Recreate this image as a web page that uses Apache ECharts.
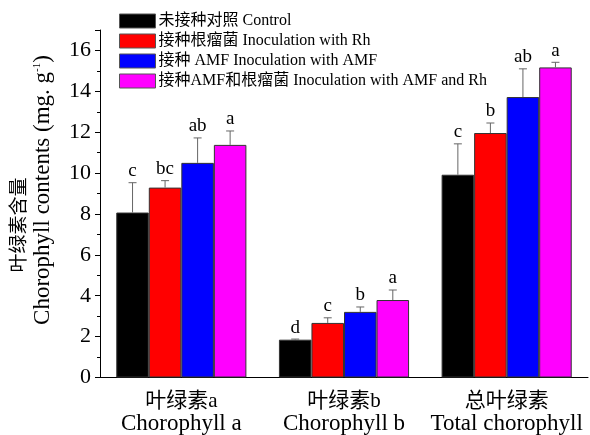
<!DOCTYPE html>
<html>
<head>
<meta charset="utf-8">
<script src="https://cdn.jsdelivr.net/npm/echarts@6/dist/echarts.min.js"></script>
<style>html,body{margin:0;padding:0;background:#fff}#c{width:590px;height:435px}</style>
</head>
<body>
<div id="c"></div>
<script>
var catCn = ['叶绿素a', '叶绿素b', '总叶绿素'];
var catEn = ['Chorophyll a', 'Chorophyll b', 'Total chorophyll'];
var seriesNames = ['未接种对照 Control', '接种根瘤菌 Inoculation with Rh', '接种 AMF Inoculation with AMF', '接种AMF和根瘤菌 Inoculation with AMF and Rh'];
var colors = ['#000000', '#ff0000', '#0000ff', '#ff00ff'];
var controlVals = [8.07, 1.85, 9.92];
var rhVals = [9.29, 2.67, 11.96];
var amfVals = [10.5, 3.21, 13.72];
var bothVals = [11.38, 3.79, 15.17];
var controlErr = [1.46, 0.03, 1.51];
var rhErr = [0.34, 0.25, 0.49];
var amfErr = [1.22, 0.24, 1.38];
var bothErr = [0.68, 0.49, 0.25];
var controlSig = ['c', 'd', 'c'];
var rhSig = ['bc', 'c', 'b'];
var amfSig = ['ab', 'b', 'ab'];
var bothSig = ['a', 'a', 'a'];
var yTicks = [0, 2, 4, 6, 8, 10, 12, 14, 16];

var vals = [controlVals, rhVals, amfVals, bothVals];
var errs = [controlErr, rhErr, amfErr, bothErr];
var sigs = [controlSig, rhSig, amfSig, bothSig];
var serif = '"Liberation Serif", "Times New Roman", "Noto Sans CJK SC", serif';

var chart = echarts.init(document.getElementById('c'), null, {renderer: 'canvas'});
var series = [];
vals.forEach(function (v, i) {
  series.push({
    type: 'bar', name: seriesNames[i], data: v,
    barGap: '0%', barCategoryGap: '20%',
    itemStyle: {color: colors[i], borderColor: '#333', borderWidth: 1},
    z: 2
  });
});
vals.forEach(function (v, i) {
  var data = v.map(function (val, k) { return [k, val, errs[i][k], sigs[i][k]]; });
  series.push({
    type: 'custom', name: 'err' + i, data: data, z: 5,
    renderItem: (function (si) {
      return function (params, api) {
        var idx = api.value(0), val = api.value(1), e = api.value(2);
        var bw = api.size([1, 0])[0] * 0.8 / 4;
        var base = api.coord([idx, val]);
        var top = api.coord([idx, val + e]);
        var x = base[0] + (si - 1.5) * bw;
        var cap = 4;
        return {
          type: 'group',
          children: [
            {type: 'line', shape: {x1: x, y1: base[1], x2: x, y2: top[1]}, style: {stroke: '#666', lineWidth: 1}},
            {type: 'line', shape: {x1: x - cap, y1: top[1], x2: x + cap, y2: top[1]}, style: {stroke: '#666', lineWidth: 1}},
            {type: 'text', x: x, y: top[1] - 2, style: {text: sigs[si][idx], font: '19px ' + serif, fill: '#000', align: 'center', verticalAlign: 'bottom'}}
          ]
        };
      };
    })(i)
  });
});

chart.setOption({
  animation: false,
  backgroundColor: '#fff',
  grid: {left: 100, right: 2, top: 30, bottom: 56},
  legend: {
    data: seriesNames, orient: 'vertical', left: 114, top: 8,
    icon: 'rect',
    itemWidth: 36, itemHeight: 14, itemGap: 4,
    textStyle: {fontFamily: serif, fontSize: 16, color: '#000', lineHeight: 14, padding: [0, 0, 0, -2]},
    itemStyle: {borderColor: '#555', borderWidth: 1}
  },
  xAxis: [{
    type: 'category', data: catCn,
    axisLine: {lineStyle: {color: '#000', width: 1}},
    axisTick: {alignWithLabel: true, length: 7, lineStyle: {color: '#000'}},
    axisLabel: {
      margin: 13, interval: 0,
      formatter: function (v, i) { return '{cn|' + catCn[i] + '}\n{en|' + catEn[i] + '}'; },
      rich: {
        cn: {fontFamily: serif, fontSize: 21, color: '#000', lineHeight: 22},
        en: {fontFamily: serif, fontSize: 23, color: '#000', lineHeight: 22}
      }
    }
  }, {
    type: 'category', data: catCn, position: 'bottom',
    axisLine: {show: false},
    axisTick: {length: 4, lineStyle: {color: '#000'}},
    axisLabel: {show: false}
  }],
  yAxis: {
    type: 'value', min: 0, max: 17, interval: 2,
    axisLine: {show: true, lineStyle: {color: '#000', width: 1}},
    axisTick: {show: true, length: 5, lineStyle: {color: '#000'}},
    minorTick: {show: true, splitNumber: 2, length: 3, lineStyle: {color: '#000'}},
    splitLine: {show: false},
    axisLabel: {
      showMaxLabel: false, margin: 9,
      fontFamily: serif, fontSize: 22, color: '#000',
      formatter: function (v) { return yTicks.indexOf(v) >= 0 ? String(v) : ''; }
    }
  },
  graphic: [
    {type: 'text', x: 20, y: 225, rotation: Math.PI / 2,
     style: {text: '叶绿素含量', font: '19px ' + serif, fill: '#000', align: 'center', verticalAlign: 'middle'}},
    {type: 'text', x: 43, y: 190, rotation: Math.PI / 2,
     style: {text: '{a|Chorophyll contents (mg. g}{s|-1}{a|)}', align: 'center', verticalAlign: 'middle',
       rich: {a: {font: '23px ' + serif, fill: '#000', color: '#000'},
              s: {font: '11px ' + serif, fill: '#000', color: '#000', verticalAlign: 'top', padding: [0, 0, 9, 0]}}}}
  ],
  series: series
});
</script>
</body>
</html>
